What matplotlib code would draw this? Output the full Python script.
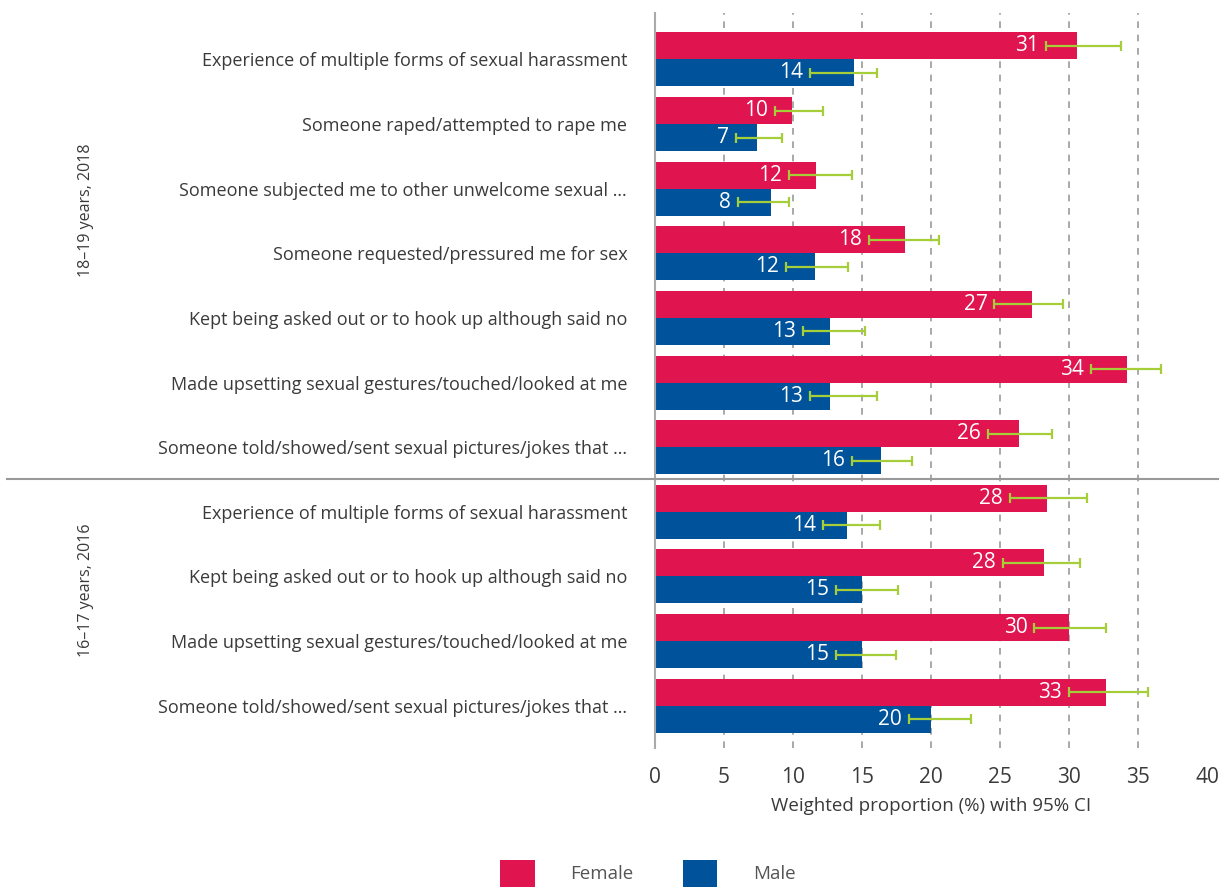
import matplotlib
matplotlib.use("Agg")
import matplotlib.pyplot as plt
from matplotlib.patches import Patch
from matplotlib.transforms import blended_transform_factory

plt.rcParams['font.family'] = ['Open Sans', 'DejaVu Sans']

categories = [
    'Experience of multiple forms of sexual harassment',
    'Someone raped/attempted to rape me',
    'Someone subjected me to other unwelcome sexual …',
    'Someone requested/pressured me for sex',
    'Kept being asked out or to hook up although said no',
    'Made upsetting sexual gestures/touched/looked at me',
    'Someone told/showed/sent sexual pictures/jokes that …',
    'Experience of multiple forms of sexual harassment',
    'Kept being asked out or to hook up although said no',
    'Made upsetting sexual gestures/touched/looked at me',
    'Someone told/showed/sent sexual pictures/jokes that …',
]
groups = ['18–19 years, 2018', '16–17 years, 2016']

female = [30.6, 9.9, 11.7, 18.1, 27.3, 34.2, 26.4, 28.4, 28.2, 30.0, 32.7]
female_lo = [28.3, 8.7, 9.7, 15.5, 24.6, 31.6, 24.1, 25.7, 25.2, 27.5, 30.0]
female_hi = [33.8, 12.2, 14.3, 20.6, 29.6, 36.7, 28.8, 31.3, 30.8, 32.7, 35.7]

male = [14.4, 7.4, 8.4, 11.6, 12.7, 12.7, 16.4, 13.9, 15.0, 15.0, 20.0]
male_lo = [11.2, 5.9, 6.0, 9.5, 10.7, 11.2, 14.3, 12.2, 13.1, 13.1, 18.4]
male_hi = [16.1, 9.2, 9.7, 14.0, 15.25, 16.1, 18.6, 16.3, 17.6, 17.5, 22.9]

RED = '#E0144F'
BLUE = '#00539B'
GREEN = '#A6CE39'
TEXT = '#3a3a3a'

fig = plt.figure(figsize=(12.27, 8.91), dpi=100)
ax = fig.add_axes([0.5338, 0.1605, 0.4499, 0.8250])

h = 0.418
ypos = list(range(len(categories)))
y_f = [y - h / 2 for y in ypos]
y_m = [y + h / 2 for y in ypos]

ax.barh(y_f, female, height=h, color=RED, zorder=2)
ax.barh(y_m, male, height=h, color=BLUE, zorder=2)

err_f = [[v - lo for v, lo in zip(female, female_lo)],
         [hi - v for v, hi in zip(female, female_hi)]]
err_m = [[v - lo for v, lo in zip(male, male_lo)],
         [hi - v for v, hi in zip(male, male_hi)]]
for vals, ys, err in [(female, y_f, err_f), (male, y_m, err_m)]:
    ax.errorbar(vals, ys, xerr=err, fmt='none', ecolor=GREEN, elinewidth=1.6,
                capsize=3.5, capthick=1.6, zorder=3)

# value labels sit just left of the lower CI bound
for vals, lows, ys in [(female, female_lo, y_f), (male, male_lo, y_m)]:
    for v, lo, y in zip(vals, lows, ys):
        ax.annotate(f'{v:.0f}', xy=(lo, y), xytext=(-5, 0), textcoords='offset points',
                    ha='right', va='center', color='white', fontsize=15, zorder=4)

ax.set_xlim(0, 40)
ax.set_ylim(len(categories) - 1 + 0.655, -0.72)
ax.set_xticks(range(0, 41, 5))
ax.set_yticks(ypos)
ax.set_yticklabels(categories, fontsize=13, color=TEXT)
ax.tick_params(axis='y', length=0, pad=20)
ax.tick_params(axis='x', length=0, pad=14, labelsize=15, labelcolor=TEXT)
ax.set_xlabel('Weighted proportion (%) with 95% CI', fontsize=13.5, color=TEXT,
              labelpad=6)

for x in range(5, 40, 5):
    ax.axvline(x, color='#999999', lw=1.2, linestyle=(0, (4, 4)), zorder=1)

for side in ['top', 'right', 'bottom']:
    ax.spines[side].set_visible(False)
ax.spines['left'].set_color('#aaaaaa')
ax.spines['left'].set_linewidth(1.5)

# separator between the two survey groups
ax.plot([-1.174, 1.02], [6.5, 6.5], color='#999999', lw=1.5,
        transform=ax.get_yaxis_transform(), clip_on=False, zorder=5)

trans = blended_transform_factory(fig.transFigure, ax.transData)
for g, gy in zip(groups, [2.33, 8.22]):
    ax.text(0.070, gy, g, rotation=90, ha='center', va='center', fontsize=11.5,
            color=TEXT, transform=trans)

handles = [Patch(facecolor=RED, label='Female'), Patch(facecolor=BLUE, label='Male')]
leg = fig.legend(handles=handles, loc='center', bbox_to_anchor=(0.528, 0.02), ncol=2,
                 frameon=False, fontsize=13.5, handlelength=1.85, handleheight=1.85,
                 handletextpad=1.9, columnspacing=2.6)
for t in leg.get_texts():
    t.set_color('#555555')

fig.savefig('out.png', dpi=100)
